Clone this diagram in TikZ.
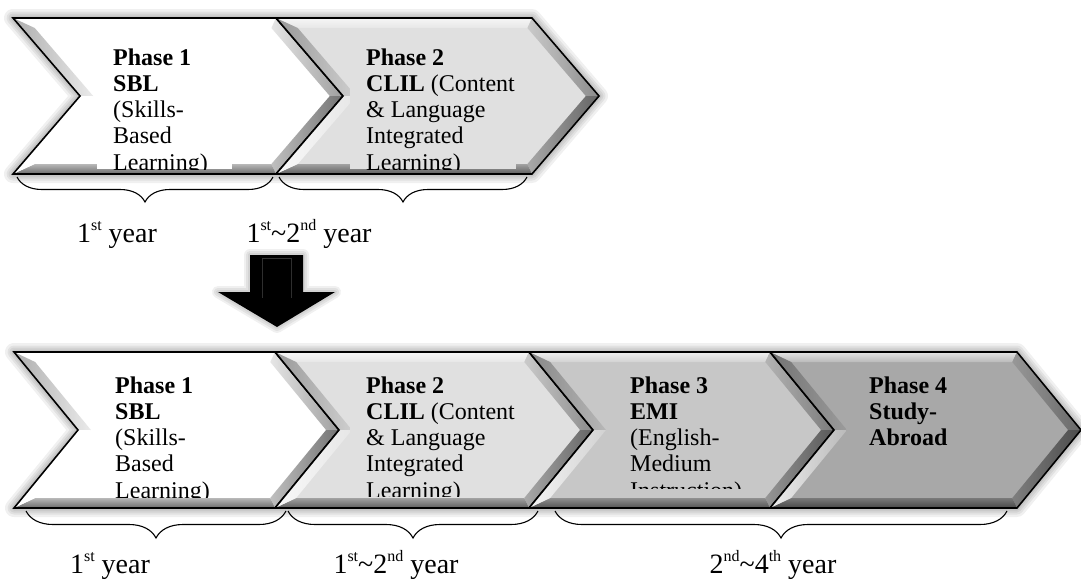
\documentclass[tikz,border=0pt]{standalone}
\usepackage{fontspec}
\setmainfont{Liberation Serif}
\usetikzlibrary{calc,decorations.pathreplacing}

\colorlet{faceA}{white}
\colorlet{faceB}{black!12}
\colorlet{faceC}{black!22}
\colorlet{faceD}{black!34}

\tikzset{
  chevline/.style={draw=black, line width=1.6pt, line join=miter},
  phtext/.style={anchor=base west, inner sep=0pt, font=\fontsize{24}{27}\selectfont},
  yrtext/.style={anchor=base, inner sep=0pt, font=\fontsize{28}{32}\selectfont},
  yearbrace/.style={draw=black, line width=1.1pt, decorate,
    decoration={brace, mirror, amplitude=#1, aspect=0.5}},
  softshadow/.style={draw=black, line join=round, opacity=0.06}
}
\newcommand\sups[1]{\raisebox{0.42em}{\fontsize{16}{16}\selectfont #1}}

% #1 L, #2 R, #3 depth, #4 top, #5 bottom, #6 face colour, #7 name
\newcommand\chevbody[7]{%
  \pgfmathsetmacro\chh{(#5-#4)/2}
  \pgfmathsetmacro\cmm{(#4+#5)/2}
  \pgfmathsetmacro\cbb{10}
  \pgfmathsetmacro\ckk{\cbb*sqrt(\chh*\chh+#3*#3)/\chh}
  \pgfmathsetmacro\csx{\cbb*#3/\chh}
  \coordinate (#7-otl) at (#1,#4);
  \coordinate (#7-otr) at (#2,#4);
  \coordinate (#7-otip) at (#2+#3,\cmm);
  \coordinate (#7-obr) at (#2,#5);
  \coordinate (#7-obl) at (#1,#5);
  \coordinate (#7-onotch) at (#1+#3,\cmm);
  \coordinate (#7-itl) at (#1+\ckk+\csx,#4+\cbb);
  \coordinate (#7-itr) at (#2-\ckk+\csx,#4+\cbb);
  \coordinate (#7-itip) at (#2-\ckk+#3,\cmm);
  \coordinate (#7-ibr) at (#2-\ckk+\csx,#5-\cbb);
  \coordinate (#7-ibl) at (#1+\ckk+\csx,#5-\cbb);
  \coordinate (#7-inotch) at (#1+\ckk+#3,\cmm);
  \fill[#6] (#7-otl) -- (#7-otr) -- (#7-otip) -- (#7-obr) -- (#7-obl) -- (#7-onotch) -- cycle;
  \shade[top color=#6!30!white, bottom color=#6!80!white]
    (#7-otl) -- (#7-otr) -- (#7-itr) -- (#7-itl) -- cycle;
  \shade[left color=#6!90!black, right color=#6!62!black]
    (#7-otr) -- (#7-otip) -- (#7-itip) -- (#7-itr) -- cycle;
  \shade[left color=#6!75!black, right color=#6!45!black]
    (#7-otip) -- (#7-obr) -- (#7-ibr) -- (#7-itip) -- cycle;
  \shade[top color=#6!72!black, bottom color=#6!42!black]
    (#7-obr) -- (#7-obl) -- (#7-ibl) -- (#7-ibr) -- cycle;
  \shade[left color=#6!68!black, right color=#6!92!black]
    (#7-onotch) -- (#7-otl) -- (#7-itl) -- (#7-inotch) -- cycle;
  \shade[left color=#6!20!white, right color=#6!80!white]
    (#7-obl) -- (#7-onotch) -- (#7-inotch) -- (#7-ibl) -- cycle;
  \draw[chevline] (#7-otl) -- (#7-otr) -- (#7-otip) -- (#7-obr) -- (#7-obl) -- (#7-onotch) -- cycle;
}

\begin{document}
\begin{tikzpicture}[x=1pt,y=-1pt]
\useasboundingbox (0,0) rectangle (1081,581);
\fill[white] (0,0) rectangle (1081,581);

% ---------------- top row ----------------
\foreach \w in {18,13,9,5}
  \draw[softshadow, line width=\w pt] (13,18) -- (532,18) -- (599,96) -- (532,174) -- (13,174) -- (80,96) -- cycle;
\chevbody{13}{276}{67}{18}{174}{faceA}{ta}
\chevbody{276}{532}{67}{18}{174}{faceB}{tb}

\begin{scope}
  \clip (97,28) rectangle (232,169);
  \fill[faceA] (97,28) rectangle (232,169);
  \node[phtext] (ta1) at (113,65) {\textbf{Phase 1}};
  \node[phtext] (ta2) at (113,91.3) {\textbf{SBL}};
  \node[phtext] (ta3) at (113,117.6) {(Skills-};
  \node[phtext] (ta4) at (113,143.9) {Based};
  \node[phtext] (ta5) at (113,170.2) {Learning)};
\end{scope}
\begin{scope}
  \clip (350,28) rectangle (516,169);
  \fill[faceB] (350,28) rectangle (516,169);
  \node[phtext] (tb1) at (366,65) {\textbf{Phase 2}};
  \node[phtext] (tb2) at (366,91.3) {\textbf{CLIL} (Content};
  \node[phtext] (tb3) at (366,117.6) {\& Language};
  \node[phtext] (tb4) at (366,143.9) {Integrated};
  \node[phtext] (tb5) at (366,170.2) {Learning)};
\end{scope}

\coordinate (tbr1s) at (17,177);
\coordinate (tbr1e) at (273,177);
\coordinate (tbr2s) at (279,177);
\coordinate (tbr2e) at (527,177);
\draw[yearbrace=25pt] (tbr1s) -- (tbr1e);
\draw[yearbrace=25pt] (tbr2s) -- (tbr2e);
\node[yrtext] (ty1) at (117,242) {1\sups{st} year};
\node[yrtext] (ty2) at (309,242) {1\sups{st}\textasciitilde2\sups{nd} year};

% ---------------- arrow ----------------
\foreach \w in {12,8,4}
  \draw[softshadow, line width=\w pt] (250,255) -- (303,255) -- (303,292) -- (335,292) -- (277,327) -- (218,292) -- (250,292) -- cycle;
\fill[black] (250,255) -- (303,255) -- (303,292) -- (335,292) -- (277,327) -- (218,292) -- (250,292) -- cycle;
\draw[black!82, line width=1pt] (262,258) -- (262,298);
\draw[black!82, line width=1pt] (291,258) -- (291,298);
\draw[black!80, line width=0.8pt] (262,258) -- (291,258);

% ---------------- bottom row ----------------
\foreach \w in {18,13,9,5}
  \draw[softshadow, line width=\w pt] (14,352) -- (1017,352) -- (1081,430) -- (1017,508) -- (14,508) -- (78,430) -- cycle;
\chevbody{14}{275}{64}{352}{508}{faceA}{ba}
\chevbody{275}{529}{64}{352}{508}{faceB}{bb}
\chevbody{529}{770}{64}{352}{508}{faceC}{bc}
\chevbody{770}{1017}{64}{352}{508}{faceD}{bd}

\begin{scope}
  \clip (98,362) rectangle (232,497);
  \fill[faceA] (98,362) rectangle (232,497);
  \node[phtext] (ba1) at (115,393) {\textbf{Phase 1}};
  \node[phtext] (ba2) at (115,419.3) {\textbf{SBL}};
  \node[phtext] (ba3) at (115,445.6) {(Skills-};
  \node[phtext] (ba4) at (115,471.9) {Based};
  \node[phtext] (ba5) at (115,498.2) {Learning)};
\end{scope}
\begin{scope}
  \clip (350,362) rectangle (516,496);
  \fill[faceB] (350,362) rectangle (516,496);
  \node[phtext] (bb1) at (366,393) {\textbf{Phase 2}};
  \node[phtext] (bb2) at (366,419.3) {\textbf{CLIL} (Content};
  \node[phtext] (bb3) at (366,445.6) {\& Language};
  \node[phtext] (bb4) at (366,471.9) {Integrated};
  \node[phtext] (bb5) at (366,498.2) {Learning)};
\end{scope}
\begin{scope}
  \clip (613,362) rectangle (757,488);
  \node[phtext] (bc1) at (630,393) {\textbf{Phase 3}};
  \node[phtext] (bc2) at (630,419.3) {\textbf{EMI}};
  \node[phtext] (bc3) at (630,445.6) {(English-};
  \node[phtext] (bc4) at (630,471.9) {Medium};
  \node[phtext] (bc5) at (630,498.2) {Instruction)};
\end{scope}
\node[phtext] (bd1) at (869,393) {\textbf{Phase 4}};
\node[phtext] (bd2) at (869,419.3) {\textbf{Study-}};
\node[phtext] (bd3) at (869,445.6) {\textbf{Abroad}};

\coordinate (bbr1s) at (26,511);
\coordinate (bbr1e) at (286,511);
\coordinate (bbr2s) at (288,511);
\coordinate (bbr2e) at (538,511);
\coordinate (bbr3s) at (555,511);
\coordinate (bbr3e) at (1007,511);
\draw[yearbrace=27pt] (bbr1s) -- (bbr1e);
\draw[yearbrace=27pt] (bbr2s) -- (bbr2e);
\draw[yearbrace=27pt] (bbr3s) -- (bbr3e);
\node[yrtext] (by1) at (110,573) {1\sups{st} year};
\node[yrtext] (by2) at (396,573) {1\sups{st}\textasciitilde2\sups{nd} year};
\node[yrtext] (by3) at (773,573) {2\sups{nd}\textasciitilde4\sups{th} year};
\end{tikzpicture}
\end{document}
